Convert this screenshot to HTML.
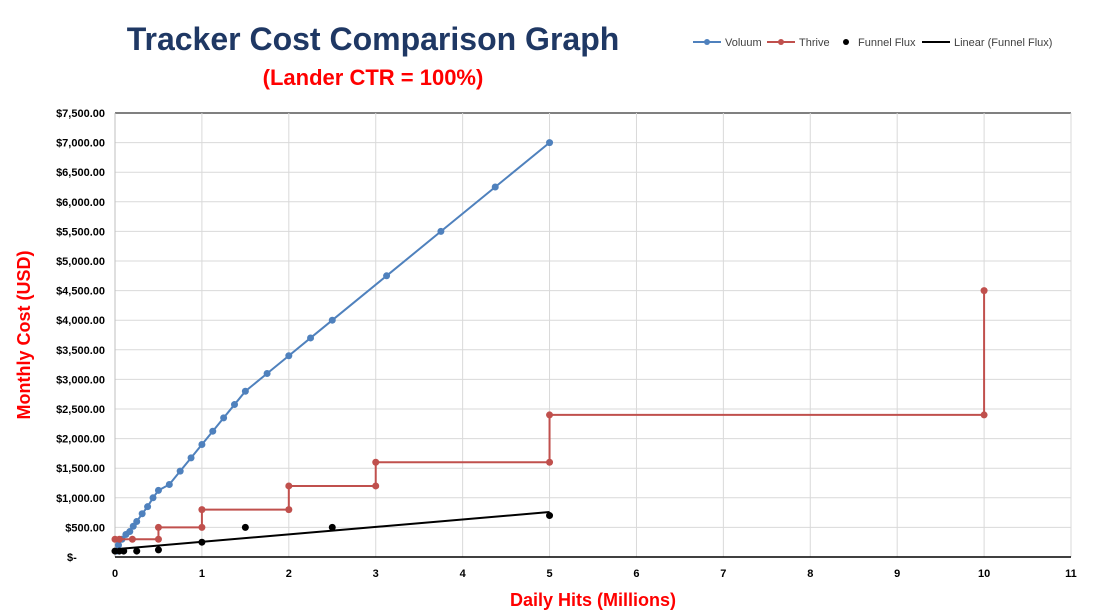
<!DOCTYPE html>
<html><head><meta charset="utf-8"><style>
body{margin:0;background:#fff;font-family:"Liberation Sans",sans-serif}
</style></head><body>
<svg id="c" width="1106" height="613" style="display:block">
<text x="373" y="50" text-anchor="middle" font-size="32" font-weight="bold" fill="#1f3864">Tracker Cost Comparison Graph</text>
<text x="373" y="85" text-anchor="middle" font-size="22" font-weight="bold" fill="#ff0000">(Lander CTR = 100%)</text>
<g id="legend" font-size="11" fill="#404040">
<g><line x1="693" y1="42" x2="721" y2="42" stroke="#4f81bd" stroke-width="2"/><circle cx="707" cy="42" r="3" fill="#4f81bd"/><text x="725" y="46">Voluum</text></g>
<g><line x1="767" y1="42" x2="795" y2="42" stroke="#c0504d" stroke-width="2"/><circle cx="781" cy="42" r="3" fill="#c0504d"/><text x="799" y="46">Thrive</text></g>
<g><circle cx="846" cy="42" r="3" fill="#000"/><text x="858" y="46">Funnel Flux</text></g>
<g><line x1="922" y1="42" x2="950" y2="42" stroke="#000" stroke-width="2"/><text x="954" y="46">Linear (Funnel Flux)</text></g>
</g>
<g id="grid"></g><g id="axes"></g><g id="series"></g>
<text transform="translate(30,335) rotate(-90)" text-anchor="middle" font-size="18" font-weight="bold" fill="#ff0000">Monthly Cost (USD)</text>
<text x="593" y="606" text-anchor="middle" font-size="18" font-weight="bold" fill="#ff0000">Daily Hits (Millions)</text>
</svg>
<script>
const xTicks=[0,1,2,3,4,5,6,7,8,9,10,11];
const yTicks=[0,500,1000,1500,2000,2500,3000,3500,4000,4500,5000,5500,6000,6500,7000,7500];
const voluumX=[0.02,0.04,0.08,0.125,0.17,0.21,0.25,0.3125,0.375,0.4375,0.5,0.625,0.75,0.875,1,1.125,1.25,1.375,1.5,1.75,2,2.25,2.5,3.125,3.75,4.375,5];
const voluumY=[100,200,300,380,430,520,600,730,850,1000,1125,1225,1450,1675,1900,2125,2350,2575,2800,3100,3400,3700,4000,4750,5500,6250,7000];
const thriveX=[0,0.05,0.2,0.5,0.5,1,1,2,2,3,3,5,5,10,10];
const thriveY=[300,300,300,300,500,500,800,800,1200,1200,1600,1600,2400,2400,4500];
const fluxX=[0,0.05,0.1,0.25,0.5,1,1.5,2.5,5];
const fluxY=[100,100,100,100,120,250,500,500,700];
const trendX=[0,5];
const trendY=[130,760];
const X0=115,X1=1071,Y0=557,Y1=113;
const sx=v=>X0+(X1-X0)*v/11, sy=v=>Y0-(Y0-Y1)*v/7500;
const NS="http://www.w3.org/2000/svg";
function mk(t,a,p){const e=document.createElementNS(NS,t);for(const k in a)e.setAttribute(k,a[k]);p.appendChild(e);return e;}
const g=document.getElementById('grid'),ax=document.getElementById('axes'),s=document.getElementById('series');
yTicks.forEach(v=>{
 const l=mk('line',{x1:X0,x2:X1,y1:sy(v),y2:sy(v),stroke:v==7500?'#000':'#d9d9d9'},g);
 
 
 const t=mk('text',{x:X0-10,y:sy(v)+4,'text-anchor':'end','font-size':11,'font-weight':'bold',fill:'#000'},ax);
 t.textContent=v==0?'$-        ':'$'+v.toLocaleString('en-US')+'.00';
 if(v==0){t.setAttribute('x',X0-48);t.setAttribute('text-anchor','start');t.textContent='$-';}
 
 
});
xTicks.forEach(v=>{
 if(v>0){const l=mk('line',{x1:sx(v),x2:sx(v),y1:Y1,y2:Y0,stroke:'#d9d9d9'},g);
 
 }
 const t=mk('text',{x:sx(v),y:Y0+20,'text-anchor':'middle','font-size':11,'font-weight':'bold',fill:'#000'},ax);
 t.textContent=v;
 
 
});
const yl=mk('line',{x1:X0,x2:X0,y1:Y1,y2:Y0,stroke:'#bfbfbf'},ax);


const xl=mk('line',{x1:X0,x2:X1,y1:Y0,y2:Y0,stroke:'#000','stroke-width':1.5},ax);


function line(xs,ys,c,name){
 const p=mk('polyline',{points:xs.map((x,i)=>sx(x)+','+sy(ys[i])).join(' '),fill:'none',stroke:c,'stroke-width':2},s);
 
 
}
function pts(xs,ys,c,name){
 xs.forEach((x,i)=>{const e=mk('circle',{cx:sx(x),cy:sy(ys[i]),r:3.5,fill:c},s);
 
 });
}
line(trendX,trendY,'#000','flux-trendline');
line(voluumX,voluumY,'#4f81bd','voluum-line');
pts(voluumX,voluumY,'#4f81bd','voluum-point');
line(thriveX,thriveY,'#c0504d','thrive-line');
pts(thriveX,thriveY,'#c0504d','thrive-point');
pts(fluxX,fluxY,'#000','funnel-flux-point');
</script>
</body></html>
